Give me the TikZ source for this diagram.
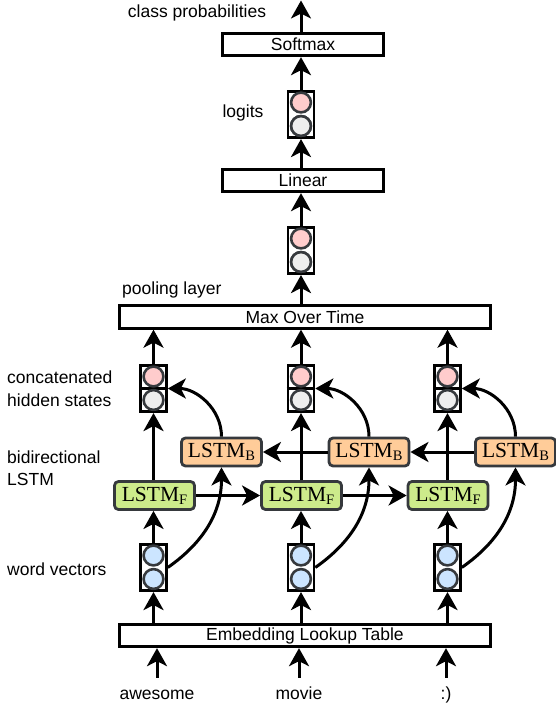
\documentclass[tikz,border=0pt]{standalone}
\usepackage{fontspec}
\setmainfont{Liberation Sans}
\newfontfamily\tms{Liberation Serif}
\usetikzlibrary{arrows.meta,calc}
\definecolor{dk}{HTML}{36393D}
\definecolor{gfill}{HTML}{CDEB8B}
\definecolor{ofill}{HTML}{FFCC99}
\definecolor{pk}{HTML}{FFCCCC}
\definecolor{gy}{HTML}{EEEEEE}
\definecolor{bl}{HTML}{CCE5FF}
\newcommand\drawvec[4]{%
  \node[vbox] (#1) at (#2,-#3-24.5) {};
  \node[circ,fill=#4] (#1a) at (#2,-#3-12.5) {};
  \node[circ,fill=#4] (#1b) at (#2,-#3-36) {};
}
\newcommand\drawcat[2]{%
  \node[vbox] (#1) at (#2,-388.5) {};
  \draw[line width=2.6pt] (#1.west) -- (#1.east);
  \node[circ,fill=pk] (#1a) at (#2,-376.5) {};
  \node[circ,fill=gy] (#1b) at (#2,-400) {};
}
\newcommand\lsub[1]{LSTM\raisebox{-3pt}{\fontsize{14.5}{14.5}\selectfont #1}}
\begin{document}
\begin{tikzpicture}[x=1pt,y=1pt,
  arr/.style={line width=3pt,-{Stealth[length=18pt,width=20pt,inset=5pt]}},
  wide/.style={draw,line width=2.8pt,minimum height=22.5pt,inner sep=0pt,font=\fontsize{17.5}{20}\selectfont},
  vbox/.style={draw,fill=white,line width=2.6pt,minimum width=26pt,minimum height=46.5pt,inner sep=0pt},
  circ/.style={circle,draw=dk,line width=2.6pt,minimum size=19.8pt,inner sep=0pt},
  lstmf/.style={draw=dk,fill=gfill,rounded corners=4pt,line width=2.8pt,minimum width=80pt,minimum height=28pt,inner sep=0pt,font=\tms\fontsize{21.5}{22}\selectfont},
  lstmb/.style={lstmf,fill=ofill},
  lbl/.style={font=\fontsize{17.5}{20}\selectfont,inner sep=0pt},
  word/.style={lbl,anchor=base,text height=12pt,text depth=4pt,inner ysep=9pt}
]
\useasboundingbox (0,0) rectangle (556,-709);
% boxes
\node[wide,minimum width=161pt] (soft) at (303,-44.5) {Softmax};
\node[wide,minimum width=161pt] (lin) at (303,-180.5) {Linear};
\node[wide,minimum width=371pt] (mot) at (305,-317) {Max Over Time};
\node[wide,minimum width=371pt] (emb) at (305,-635.5) {Embedding Lookup Table};
% vectors
\drawvec{lg}{301}{90}{pk}
\node[circ,fill=gy] at (lg.center|-lgb) {};
\drawvec{pv}{301}{226}{pk}
\node[circ,fill=gy] at (pv.center|-pvb) {};
\drawvec{w1}{153.5}{543}{bl}
\drawvec{w2}{301}{543}{bl}
\drawvec{w3}{447.5}{543}{bl}
\drawcat{c1}{153.5}
\drawcat{c2}{301}
\drawcat{c3}{447.5}
% LSTMs
\node[lstmf] (f1) at (154.5,-495.5) {\lsub{F}};
\node[lstmf] (f2) at (301.5,-495.5) {\lsub{F}};
\node[lstmf] (f3) at (448,-495.5) {\lsub{F}};
\node[lstmb] (b1) at (221.5,-452) {\lsub{B}};
\node[lstmb] (b2) at (369,-452) {\lsub{B}};
\node[lstmb] (b3) at (515.5,-452) {\lsub{B}};
% labels
\node[lbl,anchor=base] (cp) at (197,-18) {class probabilities};
\node[lbl,anchor=base] (lgl) at (243,-117) {logits};
\node[lbl,anchor=base west] (pl) at (122,-294) {pooling layer};
\node[lbl,anchor=base west] (ch1) at (7,-383) {concatenated};
\node[lbl,anchor=base west] (ch2) at (7,-406) {hidden states};
\node[lbl,anchor=base west] (bd1) at (7,-463) {bidirectional};
\node[lbl,anchor=base west] (bd2) at (7,-485) {LSTM};
\node[lbl,anchor=base west] (wv) at (7,-575) {word vectors};
\node[word] (t1) at (157,-699) {awesome};
\node[word] (t2) at (299,-699) {movie};
\node[word] (t3) at (446,-699) {:)};
\coordinate (top) at (301,-0.5);
% arrows
\draw[arr] (t1.north) -- (t1.north|-emb.south);
\draw[arr] (t2.north) -- (t2.north|-emb.south);
\draw[arr] (t3.north) -- (t3.north|-emb.south);
\foreach \i in {1,2,3}{
  \draw[arr] (w\i|-emb.north) -- (w\i.south);
  \draw[arr] (w\i.north) -- (w\i|-f\i.south);
  \draw[arr] (c\i|-f\i.north) -- (c\i.south);
  \draw[arr] (c\i.north) -- (c\i|-mot.south);
  \draw[arr] (w\i.east) to[out=35,in=-90] (b\i.south);
  \draw[arr] (b\i.north) to[out=90,in=0] (c\i.east);
}
\draw[arr] (f1.east) -- (f2.west);
\draw[arr] (f2.east) -- (f3.west);
\draw[arr] (b3.west) -- (b2.east);
\draw[arr] (b2.west) -- (b1.east);
\draw[arr] (pv|-mot.north) -- (pv.south);
\draw[arr] (pv.north) -- (pv|-lin.south);
\draw[arr] (lg|-lin.north) -- (lg.south);
\draw[arr] (lg.north) -- (lg|-soft.south);
\draw[arr] (lg|-soft.north) -- (top);
\end{tikzpicture}
\end{document}
